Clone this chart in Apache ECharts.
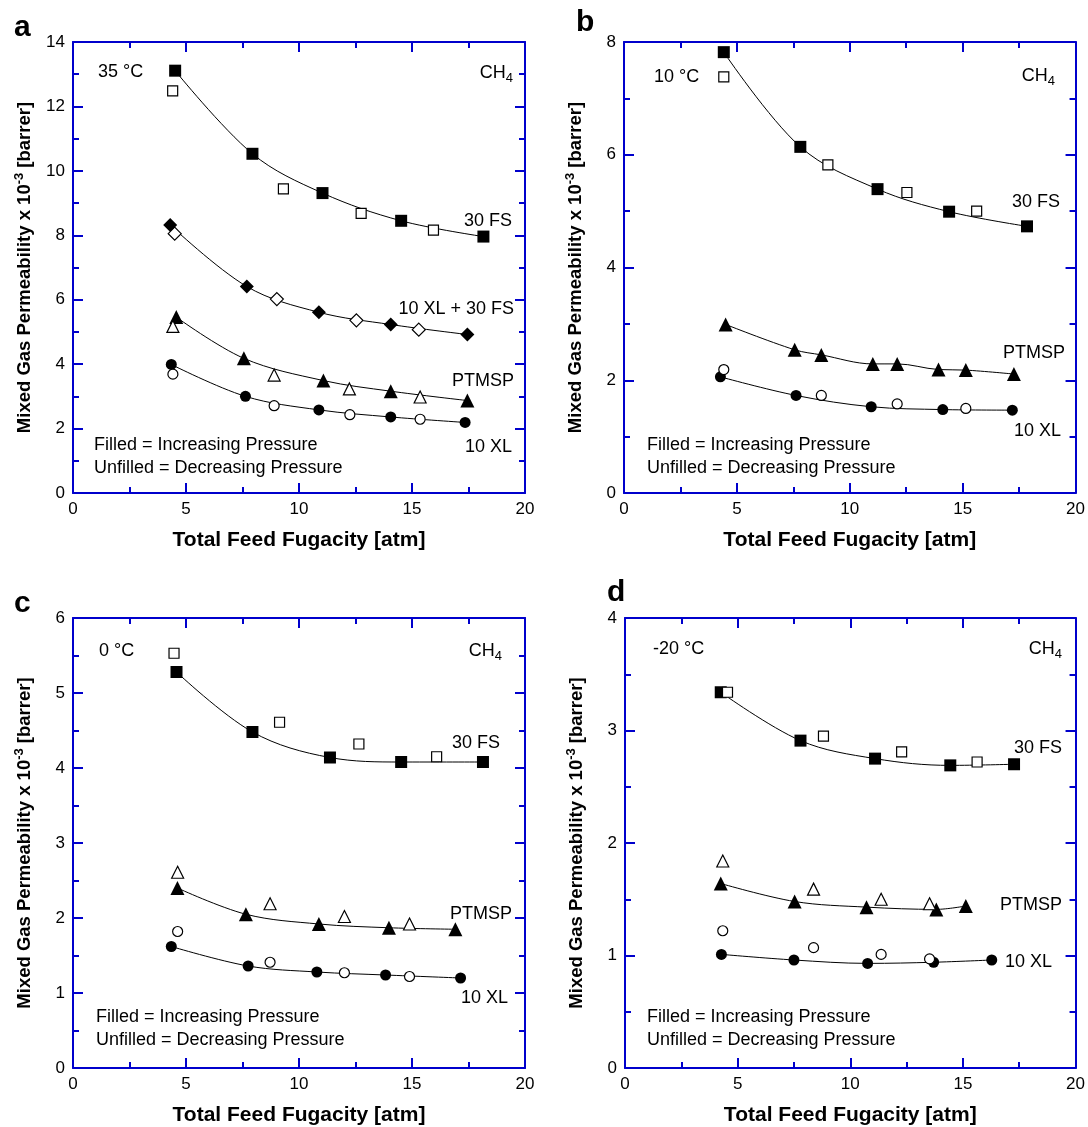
<!DOCTYPE html>
<html>
<head>
<meta charset="utf-8">
<script src="https://cdn.jsdelivr.net/npm/echarts@6/dist/echarts.min.js"></script>
<style>
html,body{margin:0;padding:0;background:#fff;}
#chart{width:1088px;height:1127px;}
</style>
</head>
<body>
<div id="chart"></div>
<script>
// ---- Data (x = total feed fugacity [atm], y = permeability x 10^-3 [barrer]) ----
// Panel a, 35 °C
const a_fs_inc  = [[4.52,13.11],[7.94,10.53],[11.04,9.31],[14.52,8.45],[18.16,7.96]];
const a_fs_dec  = [[4.41,12.48],[9.31,9.44],[12.75,8.68],[15.95,8.16]];
const a_mix_inc = [[4.30,8.32],[7.69,6.41],[10.88,5.61],[14.06,5.23],[17.45,4.92]];
const a_mix_dec = [[4.50,8.05],[9.02,6.02],[12.54,5.36],[15.30,5.07]];
const a_pt_inc  = [[4.57,5.46],[7.56,4.18],[11.08,3.49],[14.06,3.16],[17.45,2.87]];
const a_pt_dec  = [[4.42,5.17],[8.90,3.66],[12.23,3.23],[15.36,2.98]];
const a_xl_inc  = [[4.35,3.99],[7.63,3.00],[10.88,2.58],[14.06,2.36],[17.35,2.19]];
const a_xl_dec  = [[4.42,3.69],[8.90,2.71],[12.25,2.43],[15.36,2.29]];
// Panel b, 10 °C
const b_fs_inc  = [[4.42,7.82],[7.81,6.14],[11.23,5.39],[14.40,4.99],[17.85,4.73]];
const b_fs_dec  = [[4.42,7.38],[9.03,5.82],[12.53,5.33],[15.62,5.00]];
const b_pt_inc  = [[4.50,2.99],[7.56,2.54],[8.74,2.45],[11.02,2.29],[12.10,2.29],[13.93,2.19],[15.14,2.18],[17.27,2.11]];
const b_xl_inc  = [[4.27,2.06],[7.62,1.73],[10.95,1.53],[14.12,1.48],[17.20,1.47]];
const b_xl_dec  = [[4.42,2.19],[8.74,1.73],[12.10,1.58],[15.14,1.50]];
// Panel c, 0 °C
const c_fs_inc  = [[4.58,5.28],[7.94,4.48],[11.37,4.14],[14.52,4.08],[18.14,4.08]];
const c_fs_dec  = [[4.47,5.53],[9.14,4.61],[12.65,4.32],[16.09,4.15]];
const c_pt_inc  = [[4.62,2.40],[7.65,2.05],[10.88,1.92],[13.98,1.87],[16.92,1.85]];
const c_pt_dec  = [[4.63,2.61],[8.72,2.19],[12.01,2.02],[14.89,1.92]];
const c_xl_inc  = [[4.35,1.62],[7.75,1.36],[10.79,1.28],[13.83,1.24],[17.15,1.20]];
const c_xl_dec  = [[4.63,1.82],[8.72,1.41],[12.01,1.27],[14.89,1.22]];
// Panel d, -20 °C
const d_fs_inc  = [[4.25,3.34],[7.79,2.91],[11.10,2.75],[14.44,2.69],[17.27,2.70]];
const d_fs_dec  = [[4.55,3.34],[8.81,2.95],[12.28,2.81],[15.63,2.72]];
const d_pt_inc  = [[4.25,1.64],[7.53,1.48],[10.72,1.43],[13.82,1.41],[15.13,1.44]];
const d_pt_dec  = [[4.34,1.84],[8.37,1.59],[11.37,1.50],[13.52,1.46]];
const d_xl_inc  = [[4.28,1.01],[7.50,0.96],[10.77,0.93],[13.70,0.94],[16.28,0.96]];
const d_xl_dec  = [[4.34,1.22],[8.37,1.07],[11.37,1.01],[13.52,0.97]];

// Axis ranges / ticks
const xRange = {min: 0, max: 20, interval: 5};
const yRanges = [
  {min: 0, max: 14, interval: 2},
  {min: 0, max: 8, interval: 2},
  {min: 0, max: 6, interval: 1},
  {min: 0, max: 4, interval: 1}
];
const panelLetters = ['a', 'b', 'c', 'd'];
const tempLabels = ['35 °C', '10 °C', '0 °C', '-20 °C'];
const xTitle = 'Total Feed Fugacity [atm]';

// ---- Styling ----
const FONT = '"Liberation Sans", Arial, Helvetica, sans-serif';
const BLUE = '#0000cc';
const grids = [
  {left: 73, top: 42, width: 452, height: 451},
  {left: 624, top: 42, width: 453, height: 451},
  {left: 73, top: 618, width: 452, height: 452},
  {left: 625, top: 618, width: 452, height: 452}
];

function axisCommon(range, showLabel) {
  return Object.assign({
    type: 'value',
    axisLine: {show: true, onZero: false, lineStyle: {color: BLUE, width: 2}},
    axisTick: {show: true, inside: true, length: 10, lineStyle: {color: BLUE, width: 2}},
    minorTick: {show: true, splitNumber: 2, length: 6, lineStyle: {color: BLUE, width: 2}},
    splitLine: {show: false},
    axisLabel: {show: showLabel, color: '#000', fontSize: 17, fontFamily: FONT, margin: 8}
  }, range);
}

const xAxes = [], yAxes = [];
grids.forEach((g, i) => {
  xAxes.push(Object.assign(axisCommon(xRange, true), {
    gridIndex: i, position: 'bottom',
    name: xTitle, nameLocation: 'middle', nameGap: 37,
    nameTextStyle: {color: '#000', fontSize: 21, fontWeight: 'bold', fontFamily: FONT}
  }));
  xAxes.push(Object.assign(axisCommon(xRange, false), {gridIndex: i, position: 'top'}));
  yAxes.push(Object.assign(axisCommon(yRanges[i], true), {
    gridIndex: i, position: 'left',
    name: '{t|Mixed Gas Permeability x 10}{s|-3}{t| [barrer]}',
    nameLocation: 'middle', nameGap: 36, nameRotate: 90,
    nameTextStyle: {
      color: '#000', fontFamily: FONT, fontWeight: 'bold',
      rich: {
        t: {fontSize: 18.5, fontWeight: 'bold', fontFamily: FONT, color: '#000', lineHeight: 24},
        s: {fontSize: 13, fontWeight: 'bold', fontFamily: FONT, color: '#000', verticalAlign: 'top', lineHeight: 14}
      }
    }
  }));
  yAxes.push(Object.assign(axisCommon(yRanges[i], false), {gridIndex: i, position: 'right'}));
});

const marker = {
  rect: {filled: 12, open: 10},
  diamond: {filled: 14, open: 13},
  triangle: {filled: 14, open: 12},
  circle: {filled: 11, open: 10}
};

function filledSeries(data, sym, idx) {
  return {
    type: 'line', xAxisIndex: idx * 2, yAxisIndex: idx * 2, data: data,
    smooth: 0.35,
    symbol: sym, symbolSize: marker[sym].filled, showAllSymbol: true,
    lineStyle: {color: '#000', width: 1},
    itemStyle: {color: '#000', borderColor: '#000', borderWidth: 0},
    z: 3, silent: true, animation: false
  };
}
function openSeries(data, sym, idx) {
  return {
    type: 'scatter', xAxisIndex: idx * 2, yAxisIndex: idx * 2, data: data,
    symbol: sym, symbolSize: marker[sym].open,
    itemStyle: {color: '#fff', borderColor: '#000', borderWidth: 1.2, opacity: 1},
    z: 4, silent: true, animation: false
  };
}

const series = [
  filledSeries(a_fs_inc, 'rect', 0), openSeries(a_fs_dec, 'rect', 0),
  filledSeries(a_mix_inc, 'diamond', 0), openSeries(a_mix_dec, 'diamond', 0),
  filledSeries(a_pt_inc, 'triangle', 0), openSeries(a_pt_dec, 'triangle', 0),
  filledSeries(a_xl_inc, 'circle', 0), openSeries(a_xl_dec, 'circle', 0),

  filledSeries(b_fs_inc, 'rect', 1), openSeries(b_fs_dec, 'rect', 1),
  filledSeries(b_pt_inc, 'triangle', 1),
  filledSeries(b_xl_inc, 'circle', 1), openSeries(b_xl_dec, 'circle', 1),

  filledSeries(c_fs_inc, 'rect', 2), openSeries(c_fs_dec, 'rect', 2),
  filledSeries(c_pt_inc, 'triangle', 2), openSeries(c_pt_dec, 'triangle', 2),
  filledSeries(c_xl_inc, 'circle', 2), openSeries(c_xl_dec, 'circle', 2),

  filledSeries(d_fs_inc, 'rect', 3), openSeries(d_fs_dec, 'rect', 3),
  filledSeries(d_pt_inc, 'triangle', 3), openSeries(d_pt_dec, 'triangle', 3),
  filledSeries(d_xl_inc, 'circle', 3), openSeries(d_xl_dec, 'circle', 3)
];

// ---- Annotations ----
function txt(x, y, text, align, extra) {
  return {
    type: 'text', x: x, y: y, z: 10, silent: true,
    style: Object.assign({
      text: text, fill: '#000', font: '18px ' + FONT,
      align: align || 'left', verticalAlign: 'middle'
    }, extra || {})
  };
}
function ch4(xRight, y) {
  return {
    type: 'text', x: xRight, y: y, z: 10, silent: true,
    style: {
      text: '{m|CH}{s|4}', align: 'right', verticalAlign: 'middle',
      rich: {
        m: {fontSize: 18, fontFamily: FONT, fill: '#000', color: '#000', lineHeight: 24},
        s: {fontSize: 13, fontFamily: FONT, fill: '#000', color: '#000', verticalAlign: 'bottom', lineHeight: 13}
      }
    }
  };
}
const boldLetter = {font: 'bold 30px ' + FONT};
const graphic = [
  txt(14, 28, panelLetters[0], 'left', boldLetter),
  txt(576, 23, panelLetters[1], 'left', boldLetter),
  txt(14, 604, panelLetters[2], 'left', boldLetter),
  txt(607, 593, panelLetters[3], 'left', boldLetter),

  // panel a
  txt(98, 72, tempLabels[0]), ch4(513, 73),
  txt(512, 221, '30 FS', 'right'), txt(514, 309, '10 XL + 30 FS', 'right'),
  txt(514, 381, 'PTMSP', 'right'), txt(512, 447, '10 XL', 'right'),
  txt(94, 445, 'Filled = Increasing Pressure'), txt(94, 468, 'Unfilled = Decreasing Pressure'),
  // panel b
  txt(654, 77, tempLabels[1]), ch4(1055, 76),
  txt(1060, 202, '30 FS', 'right'), txt(1065, 353, 'PTMSP', 'right'), txt(1061, 431, '10 XL', 'right'),
  txt(647, 445, 'Filled = Increasing Pressure'), txt(647, 468, 'Unfilled = Decreasing Pressure'),
  // panel c
  txt(99, 651, tempLabels[2]), ch4(502, 651),
  txt(500, 743, '30 FS', 'right'), txt(512, 914, 'PTMSP', 'right'), txt(508, 998, '10 XL', 'right'),
  txt(96, 1017, 'Filled = Increasing Pressure'), txt(96, 1040, 'Unfilled = Decreasing Pressure'),
  // panel d
  txt(653, 649, tempLabels[3]), ch4(1062, 649),
  txt(1062, 748, '30 FS', 'right'), txt(1062, 905, 'PTMSP', 'right'), txt(1052, 962, '10 XL', 'right'),
  txt(647, 1017, 'Filled = Increasing Pressure'), txt(647, 1040, 'Unfilled = Decreasing Pressure')
];

const chart = echarts.init(document.getElementById('chart'), null, {renderer: 'canvas'});
chart.setOption({
  backgroundColor: '#fff',
  animation: false,
  grid: grids.map(g => Object.assign({containLabel: false}, g)),
  xAxis: xAxes,
  yAxis: yAxes,
  series: series,
  graphic: graphic
});
</script>
</body>
</html>
